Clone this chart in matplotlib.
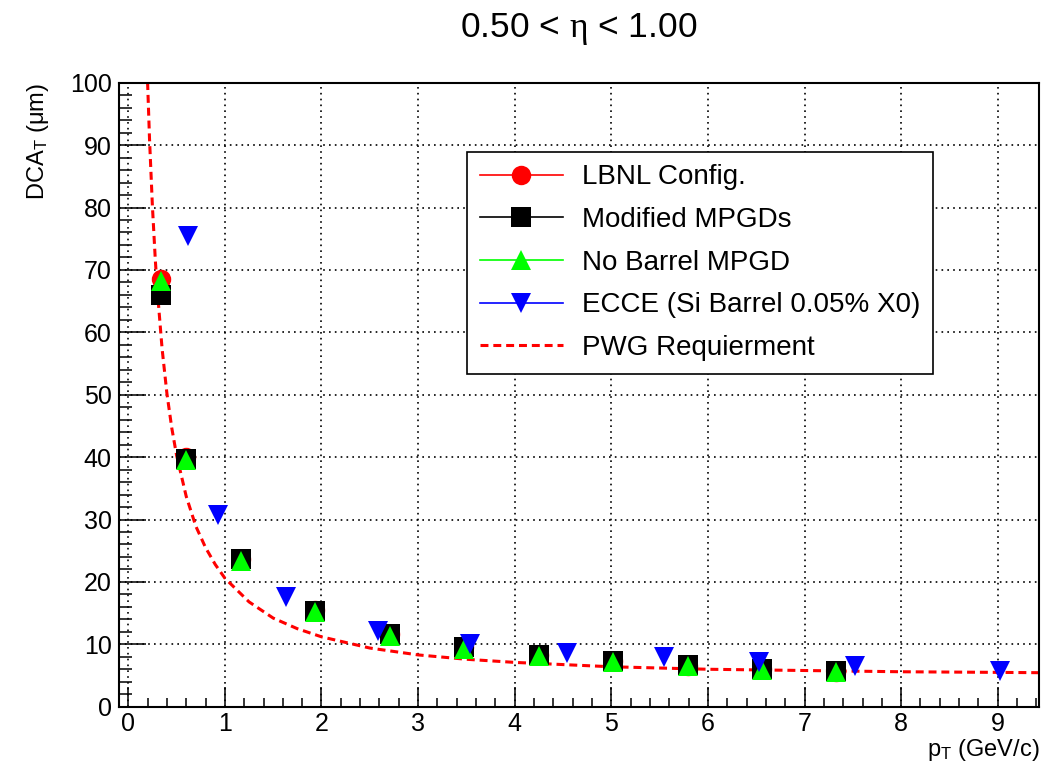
import matplotlib
matplotlib.use("Agg")
import matplotlib.pyplot as plt
from matplotlib.lines import Line2D
from matplotlib.ticker import MultipleLocator

plt.rcParams['font.family'] = ['Liberation Sans', 'DejaVu Sans']
plt.rcParams['mathtext.fontset'] = 'custom'
plt.rcParams['mathtext.it'] = 'Liberation Serif'
plt.rcParams['mathtext.rm'] = 'Liberation Sans'

# ---- data ----
pt_main = [0.34, 0.60, 1.17, 1.93, 2.71, 3.47, 4.25, 5.02, 5.79, 6.56, 7.33]
dca_lbnl = [68.5, 40.0, 23.7, 15.5, 11.7, 9.5, 8.3, 7.3, 6.6, 6.0, 5.6]
dca_modified = [66.0, 39.7, 23.6, 15.4, 11.65, 9.6, 8.3, 7.3, 6.7, 6.05, 5.7]
dca_nobarrel = [68.3, 39.5, 23.4, 15.2, 11.4, 9.2, 8.1, 7.1, 6.5, 5.9, 5.5]

pt_ecce = [0.615, 0.93, 1.63, 2.59, 3.54, 4.54, 5.55, 6.53, 7.52, 9.02]
dca_ecce = [75.5, 30.8, 17.6, 12.2, 10.1, 8.6, 7.9, 7.15, 6.6, 5.7]

pt_pwg = [0.20, 0.22, 0.25, 0.28, 0.30, 0.35, 0.40, 0.45, 0.50, 0.60, 0.70, 0.80,
          0.90, 1.00, 1.25, 1.50, 1.75, 2.00, 2.50, 3.00, 3.50, 4.00, 5.00, 6.00,
          7.00, 8.00, 9.00, 9.43]
dca_pwg = [100.1, 91.0, 80.2, 71.6, 66.9, 57.4, 50.2, 44.7, 40.3, 33.7, 28.9, 25.5,
           22.8, 20.6, 16.8, 14.2, 12.5, 11.2, 9.4, 8.3, 7.6, 7.1, 6.4, 6.0,
           5.8, 5.6, 5.5, 5.45]

labels = ["LBNL Config.", "Modified MPGDs", "No Barrel MPGD",
          "ECCE (Si Barrel 0.05% X0)", "PWG Requierment"]
title = r"0.50 < $\eta$ < 1.00"

# ---- figure ----
W, H = 1046, 766
fig = plt.figure(figsize=(W / 100, H / 100), dpi=100)
ax = fig.add_axes([118.6 / W, 1 - 706.7 / H, (1039.3 - 118.6) / W, (706.7 - 82.7) / H])
ax.set_xlim(-0.1, 9.43)
ax.set_ylim(0, 100)

ms_sq, ms_ci, ms_tr = 14.4, 14.0, 13.7
pwg_style = dict(color='red', lw=2.2, linestyle=(0, (2.6, 1.6)))

ax.plot(pt_pwg, dca_pwg, zorder=2, **pwg_style)
ax.plot(pt_main, dca_lbnl, 'o', color='red', ms=ms_ci, mew=0, zorder=3)
ax.plot(pt_main, dca_modified, 's', color='black', ms=ms_sq, mew=0, zorder=4)
ax.plot(pt_main, dca_nobarrel, '^', color='#00ff00', ms=ms_tr, mew=0, zorder=5)
ax.plot(pt_ecce, dca_ecce, 'v', color='blue', ms=ms_tr, mew=0, zorder=6)

# axes style
ax.xaxis.set_major_locator(MultipleLocator(1))
ax.xaxis.set_minor_locator(MultipleLocator(0.2))
ax.yaxis.set_major_locator(MultipleLocator(10))
ax.yaxis.set_minor_locator(MultipleLocator(2))
ax.tick_params(axis='both', which='both', direction='in', top=False, right=False,
               width=1.1, color='black', labelsize=18)
ax.tick_params(axis='x', which='major', length=14.4, pad=4)
ax.tick_params(axis='x', which='minor', length=6.5)
ax.tick_params(axis='y', which='major', length=19.4, pad=5)
ax.tick_params(axis='y', which='minor', length=9.4)
for s in ax.spines.values():
    s.set_linewidth(1.5)
ax.grid(True, which='major', color='black', linestyle=(0, (1, 2.5)), lw=1.2)
ax.set_axisbelow(True)

ax.set_xlabel(r"p$_{\mathregular{T}}$ (GeV/c)", fontsize=17, loc='right')
ax.xaxis.set_label_coords(1.0, -0.049)
ax.set_ylabel(r"DCA$_{\mathregular{T}}$ ($\mathregular{\mu}$m)", fontsize=17, loc='top')
ax.yaxis.set_label_coords(-0.073, 1.0)

fig.text(0.5 * (118.6 + 1039.3) / W, 1 - 37.3 / H, title, ha='center', va='baseline',
         fontsize=25.5)

handles = [
    Line2D([], [], color='red', lw=1.2, marker='o', ms=ms_ci, mew=0),
    Line2D([], [], color='black', lw=1.2, marker='s', ms=ms_sq, mew=0),
    Line2D([], [], color='#00ff00', lw=1.2, marker='^', ms=ms_tr, mew=0),
    Line2D([], [], color='blue', lw=1.2, marker='v', ms=ms_tr, mew=0),
    Line2D([], [], **pwg_style),
]
leg = ax.legend(handles, labels, loc='upper left',
                bbox_to_anchor=(467 / W, 1 - 152 / H), bbox_transform=fig.transFigure,
                fontsize=20, frameon=True, fancybox=False, framealpha=1,
                edgecolor='black', borderpad=0.45, borderaxespad=0,
                handlelength=3.0, handletextpad=0.68, labelspacing=0.6)
leg.get_frame().set_linewidth(1.2)
leg.set_zorder(10)

fig.savefig("out.png", dpi=100)
